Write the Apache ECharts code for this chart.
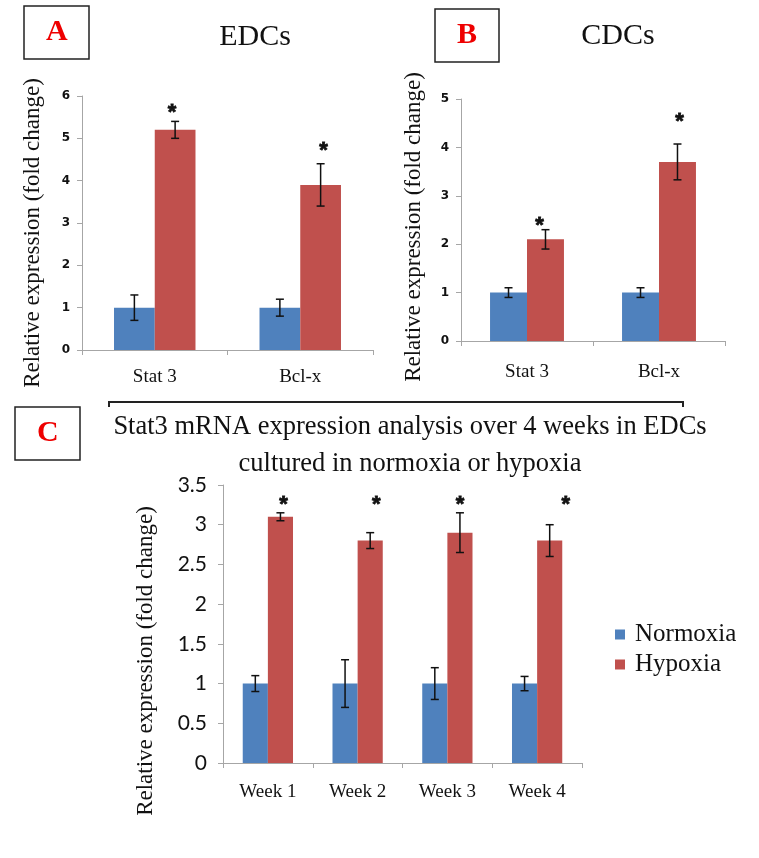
<!DOCTYPE html>
<html>
<head>
<meta charset="utf-8">
<script src="https://cdn.jsdelivr.net/npm/echarts@6/dist/echarts.min.js"></script>
<style>html,body{margin:0;padding:0;background:#fff}#c{width:759px;height:858px}</style>
</head>
<body>
<div id="c"></div>
<script>
// ---- Data ----
const catsA = ['Stat 3', 'Bcl-x'];
const normA = [1, 1];
const normErrA = [0.3, 0.2];
const hypA = [5.2, 3.9];
const hypErrA = [0.2, 0.5];
const starA = [5.7, 4.8];

const catsB = ['Stat 3', 'Bcl-x'];
const normB = [1, 1];
const normErrB = [0.1, 0.1];
const hypB = [2.1, 3.7];
const hypErrB = [0.2, 0.37];
const starB = [2.45, 4.6];

const weeks = ['Week 1', 'Week 2', 'Week 3', 'Week 4'];
const normC = [1, 1, 1, 1];
const normErrC = [0.1, 0.3, 0.2, 0.09];
const hypC = [3.1, 2.8, 2.9, 2.8];
const hypErrC = [0.05, 0.1, 0.25, 0.2];
const starC = [3.3, 3.3, 3.3, 3.3];

const ticksA = [0, 1, 2, 3, 4, 5, 6];
const ticksB = [0, 1, 2, 3, 4, 5];
const ticksC = [0, 0.5, 1, 1.5, 2, 2.5, 3, 3.5];

// star horizontal nudges (px) relative to hypoxia bar centre
const starDxA = [-3, 3];
const starDxB = [-6, 2];
const starDxC = [3, 6, 0, 16];

// ---- Styles ----
const BLUE = '#4F81BD';
const RED = '#C0504D';
const GAP = 0.44;
const SERIF = '"Liberation Serif", "Times New Roman", serif';
const AXIS_COLOR = '#a6a6a6';

const chart = echarts.init(document.getElementById('c'), null, {renderer: 'canvas'});

function errSeries(grid, side, vals, errs) {
  return {
    type: 'custom', xAxisIndex: grid, yAxisIndex: grid, z: 5, silent: true,
    data: vals.map((v, i) => [i, v, errs[i]]),
    renderItem: function (params, api) {
      const ci = api.value(0), v = api.value(1), e = api.value(2);
      const band = api.size([1, 0])[0];
      const bw = band * (1 - GAP) / 2;
      const off = side * bw / 2;
      const t = api.coord([ci, v + e]);
      const b = api.coord([ci, v - e]);
      const x = t[0] + off;
      const cap = 4;
      const st = {stroke: '#111', lineWidth: 1.5};
      return {type: 'group', children: [
        {type: 'line', shape: {x1: x, y1: t[1], x2: x, y2: b[1]}, style: st},
        {type: 'line', shape: {x1: x - cap, y1: t[1], x2: x + cap, y2: t[1]}, style: st},
        {type: 'line', shape: {x1: x - cap, y1: b[1], x2: x + cap, y2: b[1]}, style: st}
      ]};
    }
  };
}

function starSeries(grid, vals, dx) {
  return {
    type: 'custom', xAxisIndex: grid, yAxisIndex: grid, z: 6, silent: true,
    data: vals.map((v, i) => [i, v, dx[i]]),
    renderItem: function (params, api) {
      const ci = api.value(0), v = api.value(1);
      const band = api.size([1, 0])[0];
      const bw = band * (1 - GAP) / 2;
      const p = api.coord([ci, v]);
      return {type: 'text', x: p[0] + bw / 2 + api.value(2), y: p[1] + 4,
        style: {text: '*', fontSize: 22, fontWeight: 'bold', fontFamily: '"Liberation Sans", Arial', fill: '#111',
          stroke: '#111', lineWidth: 0.8, align: 'center', verticalAlign: 'middle'}};
    }
  };
}

function barPair(grid, n, h) {
  return [
    {name: 'Normoxia', type: 'bar', xAxisIndex: grid, yAxisIndex: grid, data: n,
      itemStyle: {color: BLUE}, barGap: '0%', barCategoryGap: (GAP * 100) + '%'},
    {name: 'Hypoxia', type: 'bar', xAxisIndex: grid, yAxisIndex: grid, data: h,
      itemStyle: {color: RED}, barGap: '0%', barCategoryGap: (GAP * 100) + '%'}
  ];
}

function xAx(grid, cats, margin) {
  return {type: 'category', gridIndex: grid, data: cats,
    axisLine: {lineStyle: {color: AXIS_COLOR}},
    axisTick: {show: true, length: 5, lineStyle: {color: AXIS_COLOR}},
    axisLabel: {fontFamily: SERIF, fontSize: 19, color: '#111', margin: margin}};
}

function yAx(grid, ticks, interval, lab, nameGap, shift, labMargin) {
  return {type: 'value', gridIndex: grid, min: ticks[0], max: ticks[ticks.length - 1], interval: interval,
    splitLine: {show: false},
    axisLine: {show: true, lineStyle: {color: AXIS_COLOR}},
    axisTick: {show: true, length: 5, lineStyle: {color: AXIS_COLOR}},
    axisLabel: Object.assign({color: '#111', margin: labMargin}, lab),
    name: 'Relative expression (fold change)', nameLocation: 'middle', nameRotate: 90, nameGap: nameGap,
    nameTextStyle: {fontFamily: SERIF, fontSize: 23, color: '#111', padding: [0, shift, 0, 0]}};
}

const boldTick = {fontFamily: 'DejaVu Sans', fontSize: 12, fontWeight: 'bold'};
const cTick = {fontFamily: 'Lato', fontSize: 21};

function boxTitle(letter, left, top) {
  return {text: letter, left: left, top: top, padding: [11, 22],
    borderColor: '#222', borderWidth: 1.5,
    textStyle: {fontFamily: SERIF, fontSize: 30, fontWeight: 'bold', color: '#e00', lineHeight: 31}};
}

const option = {
  backgroundColor: '#fff',
  animation: false,
  title: [
    boxTitle('A', 24, 6),
    boxTitle('B', 435, 9),
    boxTitle('C', 15, 407),
    {text: 'EDCs', left: 250, top: 17, textAlign: 'center',
      textStyle: {fontFamily: SERIF, fontSize: 30, fontWeight: 'normal', color: '#111'}},
    {text: 'CDCs', left: 613, top: 16, textAlign: 'center',
      textStyle: {fontFamily: SERIF, fontSize: 30, fontWeight: 'normal', color: '#111'}},
    {text: 'Stat3 mRNA expression analysis over 4 weeks in EDCs\ncultured in normoxia or hypoxia',
      left: 405, top: 404, textAlign: 'center',
      textStyle: {fontFamily: SERIF, fontSize: 26.5, fontWeight: 'normal', color: '#111', lineHeight: 37, align: 'center'}}
  ],
  legend: {
    data: ['Normoxia', 'Hypoxia'], orient: 'vertical', left: 610, top: 617,
    icon: 'rect', itemWidth: 10, itemHeight: 10, itemGap: 5, selectedMode: false,
    textStyle: {fontFamily: SERIF, fontSize: 25, color: '#111', padding: [0, 0, 0, 5]}
  },
  grid: [
    {left: 82, top: 96, width: 291, height: 254},
    {left: 461, top: 99, width: 264, height: 242},
    {left: 223, top: 485, width: 359, height: 278}
  ],
  xAxis: [xAx(0, catsA, 18), xAx(1, catsB, 22), xAx(2, weeks, 20)],
  yAxis: [
    yAx(0, ticksA, 1, boldTick, 38, 20, 12),
    yAx(1, ticksB, 1, boldTick, 36, 14, 12),
    yAx(2, ticksC, 0.5, cTick, 66, 74, 16)
  ],
  graphic: [
    {type: 'polyline', shape: {points: [[109, 407], [109, 402], [683, 402], [683, 407]]},
      style: {stroke: '#222', lineWidth: 2, fill: null}}
  ],
  series: [].concat(
    barPair(0, normA, hypA),
    [errSeries(0, -1, normA, normErrA), errSeries(0, 1, hypA, hypErrA), starSeries(0, starA, starDxA)],
    barPair(1, normB, hypB),
    [errSeries(1, -1, normB, normErrB), errSeries(1, 1, hypB, hypErrB), starSeries(1, starB, starDxB)],
    barPair(2, normC, hypC),
    [errSeries(2, -1, normC, normErrC), errSeries(2, 1, hypC, hypErrC), starSeries(2, starC, starDxC)]
  )
};
chart.setOption(option);
</script>
</body>
</html>
